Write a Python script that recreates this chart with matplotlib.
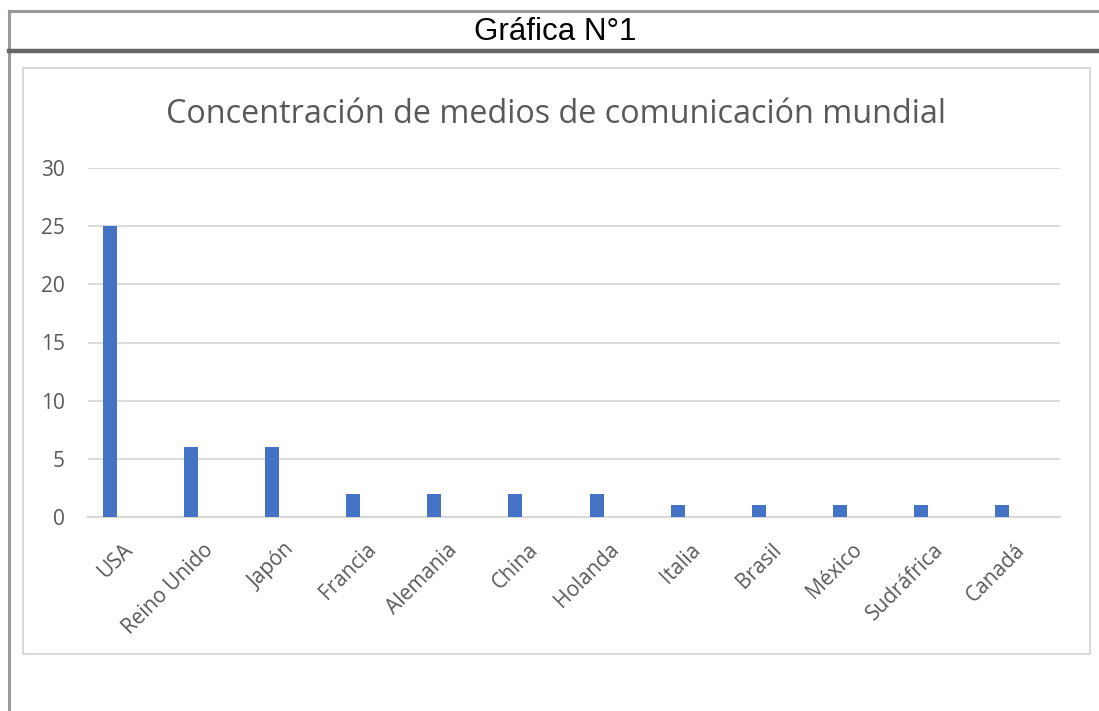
import matplotlib.pyplot as plt
from matplotlib.lines import Line2D
from matplotlib.patches import Rectangle
from matplotlib.transforms import ScaledTranslation

# --- data ---
paises = ['USA', 'Reino Unido', 'Japón', 'Francia', 'Alemania', 'China',
          'Holanda', 'Italia', 'Brasil', 'México', 'Sudráfrica', 'Canadá']
medios = [25, 6, 6, 2, 2, 2, 2, 1, 1, 1, 1, 1]
y_ticks = [0, 5, 10, 15, 20, 25, 30]

W, H = 1099, 711
GRAY_TXT = '#595959'
GRID = '#d9d9d9'
BAR = '#4472C4'


def fx(px):
    return px / W


def fy(py):
    return 1 - py / H


fig = plt.figure(figsize=(W / 100, H / 100), dpi=100)

# --- outer table frame ---
fig.add_artist(Line2D([fx(8.5), 1], [fy(11), fy(11)], color='#999999', lw=2.2))
fig.add_artist(Line2D([fx(8.5), fx(8.5)], [fy(11), 0], color='#999999', lw=2.2))
fig.add_artist(Line2D([fx(8.5), 1], [fy(51), fy(51)], color='#666666', lw=3.2))
fig.text(fx(555), fy(39.5), 'Gráfica N°1', ha='center', va='baseline',
         fontsize=22.5, family='Liberation Sans', color='black')

# --- chart box ---
fig.add_artist(Rectangle((fx(23), fy(654)), fx(1090) - fx(23), fy(68) - fy(654),
                         fill=False, edgecolor=GRID, lw=1.5))
fig.text(fx(556), fy(123), 'Concentración de medios de comunicación mundial',
         ha='center', va='baseline', fontsize=23.3, family='Open Sans', color=GRAY_TXT)

# --- plot area (bars sit at 110 .. 1002 px, grid runs 88 .. 1060 px) ---
ax = fig.add_axes([fx(88), fy(517), fx(1060) - fx(88), fy(168) - fy(517)])
x = list(range(len(paises)))
step = (1002 - 110) / (len(paises) - 1)
ax.bar(x, medios, width=14 / step, color=BAR, zorder=3)
ax.set_xlim(-(110 - 88) / step, len(paises) - 1 + (1060 - 1002) / step)
ax.set_ylim(0, 30)
ax.set_yticks(y_ticks)
ax.yaxis.grid(True, color=GRID, lw=1.3)
ax.set_axisbelow(True)
for s in ['top', 'right', 'left']:
    ax.spines[s].set_visible(False)
ax.spines['bottom'].set_color(GRID)
ax.spines['bottom'].set_linewidth(1.6)
ax.tick_params(axis='both', length=0)
ax.tick_params(axis='y', pad=16.5)
ax.tick_params(axis='x', pad=16)
ax.set_yticklabels([str(v) for v in y_ticks], fontsize=15, family='Open Sans',
                   color=GRAY_TXT)
ax.set_xticks(x)
ax.set_xticklabels(paises, rotation=45, ha='right', va='top', fontsize=15,
                   family='Open Sans', color=GRAY_TXT)
shift = ScaledTranslation(0.27, 0, fig.dpi_scale_trans)
for lab in ax.get_xticklabels():
    lab.set_transform(lab.get_transform() + shift)

fig.savefig('out.png', dpi=100, facecolor='white')
